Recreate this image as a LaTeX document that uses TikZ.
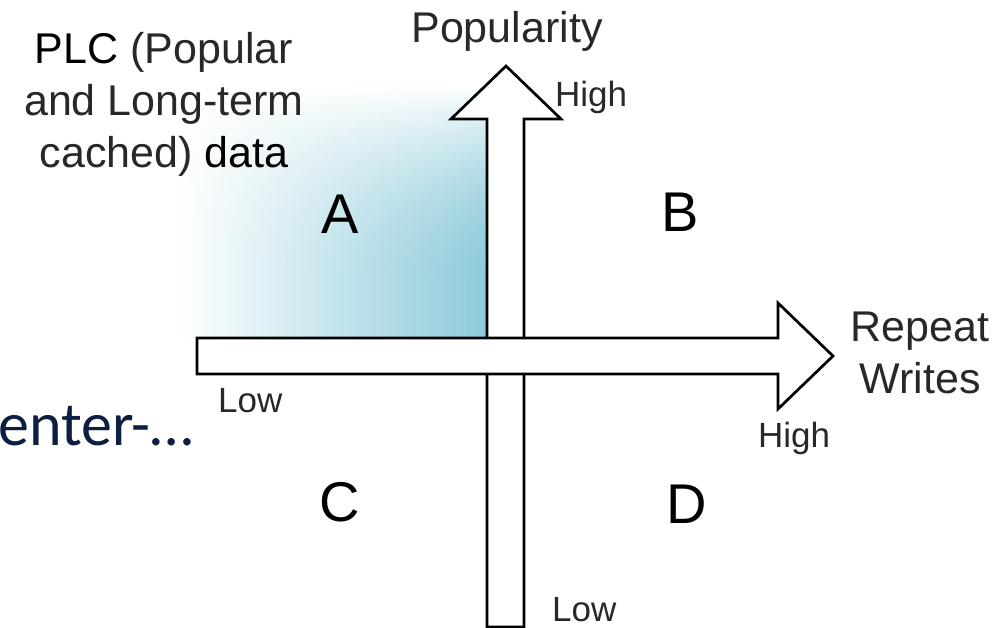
\documentclass[tikz,border=0pt]{standalone}
\usepackage{fontspec}
\setmainfont{Liberation Sans}
\newfontfamily\carl{Carlito}
\definecolor{tealA}{RGB}{140,202,218}
\definecolor{lblgray}{RGB}{40,40,40}
\definecolor{navy}{RGB}{12,30,66}
\tikzset{
  arrowshape/.style={draw=black, line width=2.7pt, fill=white, line join=miter},
  biglbl/.style={inner sep=0pt, text=lblgray, font=\fontsize{43}{52}\selectfont},
  smalllbl/.style={inner sep=0pt, text=lblgray, font=\fontsize{35}{42}\selectfont},
  quadlbl/.style={inner sep=0pt, text=black, font=\fontsize{56}{60}\selectfont},
}
\begin{document}
\begin{tikzpicture}[x=1pt,y=-1pt]
\useasboundingbox (0,0) rectangle (996,628);
% shaded PLC region: horizontal gradient, faded to white towards the top
\shade[left color=white, middle color=tealA!55, right color=tealA]
  (178,85) rectangle (487,338);
\foreach \i in {0,...,49}{
  \pgfmathsetmacro{\op}{(1-\i/50)^2}
  \fill[white, fill opacity=\op] (177,85+\i*4.2) rectangle (487.5,85+\i*4.2+4.3);
}
\fill[white] (176,80) rectangle (488.5,87);
% vertical arrow (Popularity)
\draw[arrowshape] (487,627) -- (487,119) -- (451,119) -- (506,66) -- (561,119) -- (524,119) -- (524,627) -- cycle;
% horizontal arrow (Repeat Writes)
\draw[arrowshape] (197,338) -- (778,338) -- (778,303) -- (833,356) -- (778,409) -- (778,374) -- (197,374) -- cycle;
% axis labels
\node[biglbl, anchor=base] (pop) at (507,43) {Popularity};
\node[smalllbl, anchor=base west] (hightop) at (555,107) {High};
\node[biglbl, anchor=base, align=center] (plc) at (164,168)
  {\textcolor{black}{PLC} (Popular\\and Long-term\\cached) \textcolor{black}{data}};
\node[biglbl, anchor=base, align=center] (rw) at (920,393) {Repeat\\Writes};
\node[smalllbl, anchor=base west] (lowleft) at (218,412) {Low};
\node[smalllbl, anchor=base west] (highright) at (758,447) {High};
\node[smalllbl, anchor=base west] (lowbottom) at (552,621) {Low};
% quadrant letters
\node[quadlbl] (qa) at (340,214) {A};
\node[quadlbl] (qb) at (680,212) {B};
\node[quadlbl] (qc) at (340,502) {C};
\node[quadlbl] (qd) at (687,504) {D};
% clipped slide text
\node[inner sep=0pt, anchor=base west, text=navy, font=\carl\fontsize{62}{70}\selectfont] (ctr) at (-2,445) {enter-…};
\end{tikzpicture}
\end{document}
